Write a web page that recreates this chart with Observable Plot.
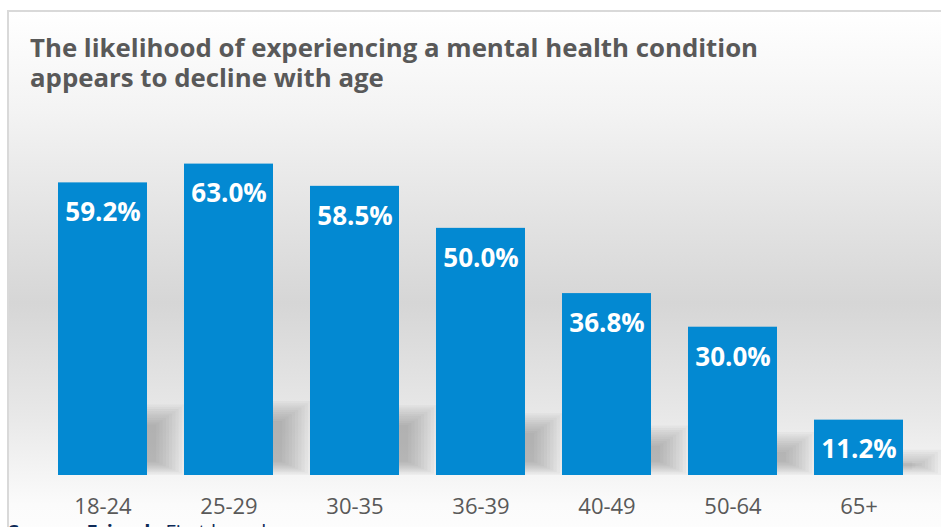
<!DOCTYPE html>
<html>
<head>
<meta charset="utf-8">
<script src="https://cdn.jsdelivr.net/npm/d3@7"></script>
<script src="https://cdn.jsdelivr.net/npm/@observablehq/plot@0.6"></script>
<style>
  html, body { margin: 0; padding: 0; width: 941px; height: 527px; overflow: hidden; background: #ffffff; }
  #frame {
    position: absolute; left: 7px; top: 10px; width: 960px; height: 560px;
    border-top: 2px solid #d9d9d9; border-left: 2px solid #d9d9d9;
    background: linear-gradient(to bottom, #ffffff 0%, #f3f3f3 18%, #d6d6d6 52%, #e8e8e8 72%, #fbfbfb 88%, #ffffff 100%);
  }
  .title {
    position: absolute; left: 30px; white-space: nowrap;
    font-family: "Open Sans", sans-serif; font-weight: 700; font-size: 25.8px; line-height: 26px;
    color: #595959;
  }
  #chart { position: absolute; left: 0; top: 0; }
  #source {
    position: absolute; left: 8px; top: 525px; white-space: nowrap;
    font-family: "Open Sans", sans-serif; font-size: 20px; line-height: 14px; color: #0d2a57;
  }
</style>
</head>
<body>
<div id="frame"></div>
<div id="chart"></div>
<div class="title" style="top:34px">The likelihood of experiencing a mental health condition</div>
<div class="title" style="top:64px">appears to decline with age</div>
<div id="source"><b>Source: Friends</b> First launch</div>
<script>
const ages = ["18-24", "25-29", "30-35", "36-39", "40-49", "50-64", "65+"];
const values = [59.2, 63.0, 58.5, 50.0, 36.8, 30.0, 11.2];

const data = ages.map((age, i) => ({
  age,
  value: values[i],
  label: values[i].toFixed(1) + "%",
  shadow: 3 + values[i] * 0.19
}));

// soft shadow built from stacked translucent layers
const shadowLayers = d3.range(10).map(k =>
  Plot.barY(data, {
    x: "age",
    y1: k * 0.3,
    y2: d => d.shadow - k * 0.45,
    fill: "#6a6a6a",
    fillOpacity: 0.055,
    dx: 38,
    insetLeft: 0,
    insetRight: k * 3.2
  })
);

const chart = Plot.plot({
  width: 941,
  height: 527,
  marginLeft: 37,
  marginRight: 16,
  marginTop: 129,
  marginBottom: 52,
  style: { background: "transparent", fontFamily: "'Open Sans', sans-serif", fontSize: "22px", color: "#595959" },
  x: { domain: ages, paddingInner: 0.291, paddingOuter: 0.145, label: null, tickSize: 0, tickPadding: 23 },
  y: { domain: [0, 70], axis: null },
  marks: [
    ...shadowLayers,
    Plot.barY(data, { x: "age", y: "value", fill: "#0389d2" }),
    Plot.text(data, { x: "age", y: "value", text: "label", fill: "white", fontWeight: "bold", fontSize: 26, dy: 30 })
  ]
});
document.getElementById("chart").appendChild(chart);
</script>
</body>
</html>
